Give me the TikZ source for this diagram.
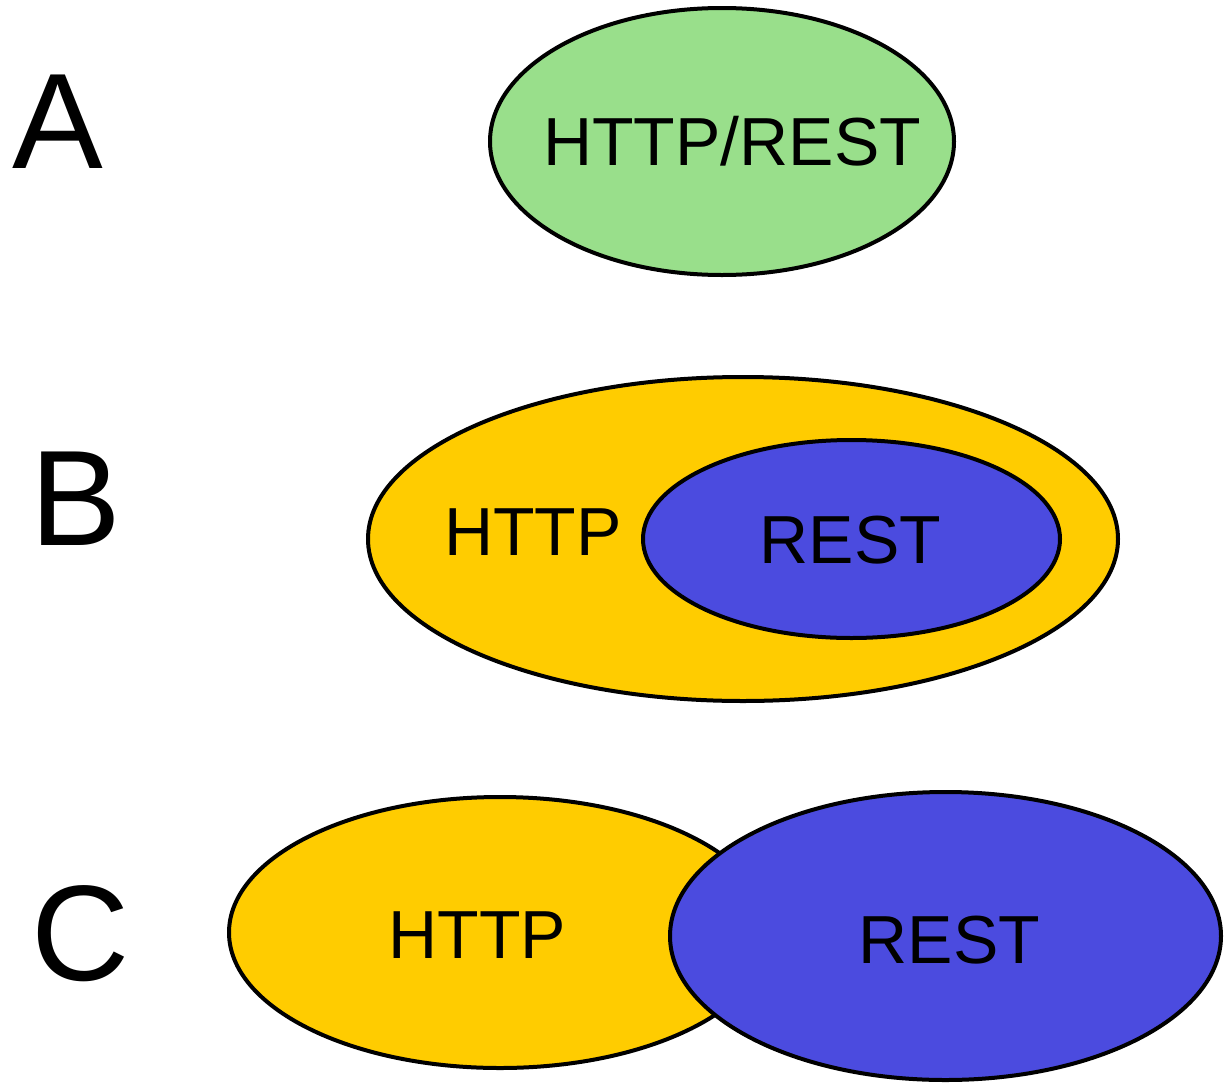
\documentclass[tikz,border=0pt]{standalone}
\usepackage{fontspec}
\setmainfont{Liberation Sans}
\usetikzlibrary{shapes.geometric}

\definecolor{restgreen}{RGB}{153,223,139}
\definecolor{httpyellow}{RGB}{255,204,0}
\definecolor{restblue}{RGB}{75,75,223}

\tikzset{
  blob/.style={ellipse, draw=black, line width=4pt, inner sep=0pt},
  label text/.style={anchor=base, inner sep=0pt, font=\fontsize{68}{80}\selectfont},
  case letter/.style={anchor=base, inner sep=0pt, font=\fontsize{136}{160}\selectfont}
}

\begin{document}
\begin{tikzpicture}[x=1pt, y=-1pt]
  \useasboundingbox (0,0) rectangle (1224,1087);

  % Case A: one protocol covering both
  \node[case letter] (la) at (58,168) {A};
  \node[blob, fill=restgreen, minimum width=464pt, minimum height=267pt] (ea) at (722,141.5) {};
  \node[label text] (ta) at (732,165) {HTTP/REST};

  % Case B: REST nested inside HTTP
  \node[case letter] (lb) at (76,545) {B};
  \node[blob, fill=httpyellow, minimum width=750pt, minimum height=324pt] (eb1) at (743,539) {};
  \node[blob, fill=restblue, minimum width=417pt, minimum height=198pt] (eb2) at (851.5,539) {};
  \node[label text] (tb1) at (533,555) {HTTP};
  \node[label text] (tb2) at (850.5,563) {REST};

  % Case C: two separate protocols side by side
  \node[case letter] (lc) at (81,980) {C};
  \node[blob, fill=httpyellow, minimum width=542pt, minimum height=271pt] (ec1) at (500,932.5) {};
  \node[blob, fill=restblue, minimum width=551pt, minimum height=288pt] (ec2) at (945.5,936) {};
  \node[label text] (tc1) at (477.5,958) {HTTP};
  \node[label text] (tc2) at (949.5,963) {REST};
\end{tikzpicture}
\end{document}
